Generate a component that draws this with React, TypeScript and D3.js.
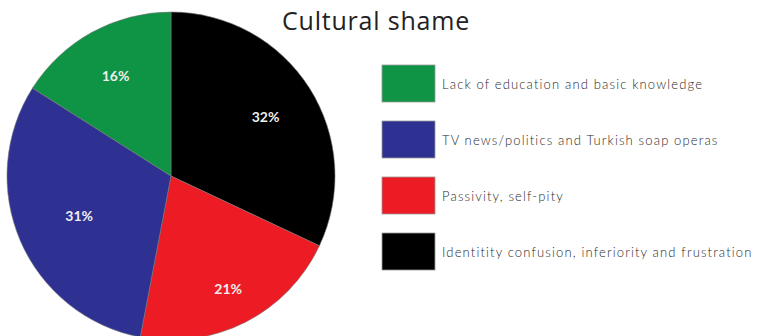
import React from "react";
import * as d3 from "d3";

const categories = [
  "Identitity confusion, inferiority and frustration",
  "Passivity, self-pity",
  "TV news/politics and Turkish soap operas",
  "Lack of education and basic knowledge",
];
const values = [32, 21, 31, 16];
const colors = ["#000000", "#ed1c24", "#2e3192", "#0f9345"];
const legendOrder = [3, 2, 1, 0];
const title = "Cultural shame";
// label distance from centre per slice (layout)
const labelRadii = [112, 126, 100, 115];

export default function App() {
  const width = 769;
  const height = 336;
  const cx = 171;
  const cy = 176;
  const r = 164;
  const pie = d3.pie<number>().sort(null).value((d) => d)(values);
  const arc = d3.arc<d3.PieArcDatum<number>>().innerRadius(0).outerRadius(r);
  const ly = d3.scalePoint<number>().domain(legendOrder).range([65, 233]);

  return (
    <svg
      width={width}
      height={height}
      style={{ position: "absolute", left: 0, top: 0 }}
    >
      <rect width={width} height={height} fill="#fff" />
      <g transform={`translate(${cx},${cy})`}>
        {pie.map((d, i) => (
          <path key={i} d={arc(d) || ""} fill={colors[i]} stroke="#777" strokeWidth={0.6} />
        ))}
        {pie.map((d, i) => {
          const la = d3
            .arc<d3.PieArcDatum<number>>()
            .innerRadius(labelRadii[i])
            .outerRadius(labelRadii[i]);
          const [x, y] = la.centroid(d);
          return (
            <text
              key={i}
              x={x}
              y={y}
              textAnchor="middle"
              dominantBaseline="central"
              fontFamily="Lato, sans-serif"
              fontWeight="bold"
              fontSize={14}
              fill="#eeeeee"
            >
              {values[i]}%
            </text>
          );
        })}
      </g>
      <text
        x={376}
        y={30}
        textAnchor="middle"
        fontFamily="'Open Sans', Lato, sans-serif"
        fontSize={25}
        letterSpacing={0.8}
        fill="#222"
      >
        {title}
      </text>
      {legendOrder.map((idx) => (
        <g key={idx} transform={`translate(382,${ly(idx)})`}>
          <rect width={53} height={37} fill={colors[idx]} stroke="#999" strokeWidth={0.8} />
          <text
            x={60}
            y={19}
            dominantBaseline="central"
            fontFamily="Lato, sans-serif"
            fontWeight={300}
            fontSize={13}
            letterSpacing={1.15}
            fill="#2a2a2a"
          >
            {categories[idx]}
          </text>
        </g>
      ))}
    </svg>
  );
}
